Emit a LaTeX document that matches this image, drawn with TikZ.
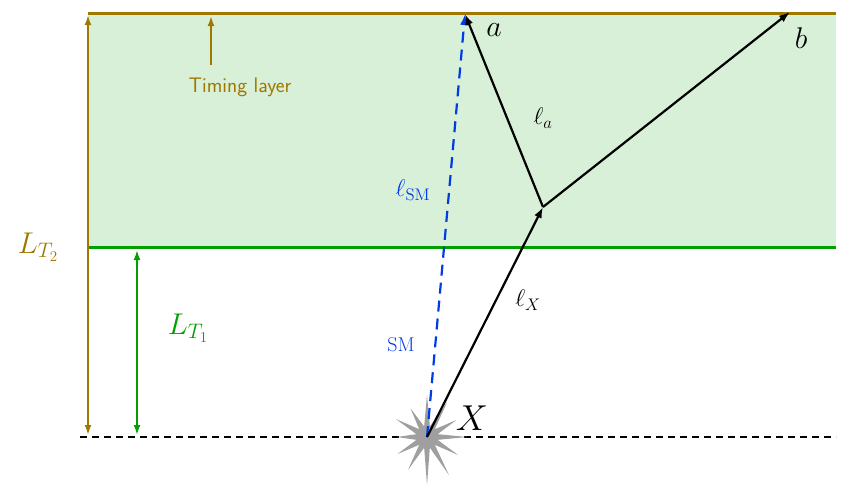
\RequirePackage{fix-cm}
\documentclass[tikz,border=0pt]{standalone}
\usetikzlibrary{arrows.meta}
\definecolor{brn}{RGB}{160,120,0}
\definecolor{grn}{RGB}{0,160,0}
\definecolor{band}{RGB}{216,240,216}
\definecolor{smb}{RGB}{0,60,230}
\begin{document}
\begin{tikzpicture}[x=1pt,y=-1pt,
  arr/.style={-{Latex[length=11pt,width=8pt]},line width=2.2pt},
  big/.style={font=\fontsize{30}{34}\selectfont},
  mid/.style={font=\fontsize{24}{28}\selectfont}]
\useasboundingbox (0,0) rectangle (843,488);
\fill[band] (88,13) rectangle (836,247);
\draw[brn,line width=3pt] (88,13) -- (836,13);
\draw[grn,line width=3pt] (88,247) -- (836,247);
\draw[line width=2pt,dash pattern=on 7pt off 5pt] (80,437) -- (836,437);
% star
\fill[gray!75] (427,437) +(0:40) -- +(15:11) -- +(30:36) -- +(45:11) -- +(60:44) -- +(75:11) -- +(90:48) -- +(105:11) -- +(120:38) -- +(135:11) -- +(150:34) -- +(165:11) -- +(180:30) -- +(195:11) -- +(210:36) -- +(225:11) -- +(240:33) -- +(255:11) -- +(270:42) -- +(285:11) -- +(300:40) -- +(315:11) -- +(330:34) -- +(345:11) -- cycle;
\coordinate (o) at (427,437);
\coordinate (k) at (543,207);
\coordinate (a) at (465,14);
\coordinate (b) at (790,12);
\draw[brn,line width=2.2pt,{Latex[length=10pt,width=7pt]}-{Latex[length=10pt,width=7pt]}] (88,15) -- (88,435);
\draw[grn,line width=2.2pt,{Latex[length=10pt,width=7pt]}-{Latex[length=10pt,width=7pt]}] (137,250) -- (137,435);
\draw[brn,line width=2.2pt,-{Latex[length=10pt,width=7pt]}] (211,65) -- (211,16);
\node (tl) [brn,font=\sffamily\fontsize{21}{24}\selectfont] at (240,87) {Timing layer};
\node (lt2) [brn,big] at (38,247) {$L_{T_2}$};
\node (lt1) [grn,big] at (188,328) {$L_{T_1}$};
\draw[smb,line width=2.2pt,dash pattern=on 11pt off 7pt,-{Latex[length=11pt,width=8pt]}] (o) -- (a);
\draw[arr] (o) -- (k);
\draw[arr] (k) -- (a);
\draw[arr] (k) -- (b);
\node (X) [font=\fontsize{36}{40}\selectfont] at (472,418) {$X$};
\node (la) [big] at (494,30) {$a$};
\node (lb) [big] at (801,38) {$b$};
\node (lx) [mid] at (528,300) {$\ell_X$};
\node (laa) [mid] at (543,118) {$\ell_a$};
\node (lsm) [smb,mid] at (413,190) {$\ell_{\mathrm{SM}}$};
\node (smt) [smb,font=\fontsize{20}{24}\selectfont] at (401,345) {SM};
\end{tikzpicture}
\end{document}
